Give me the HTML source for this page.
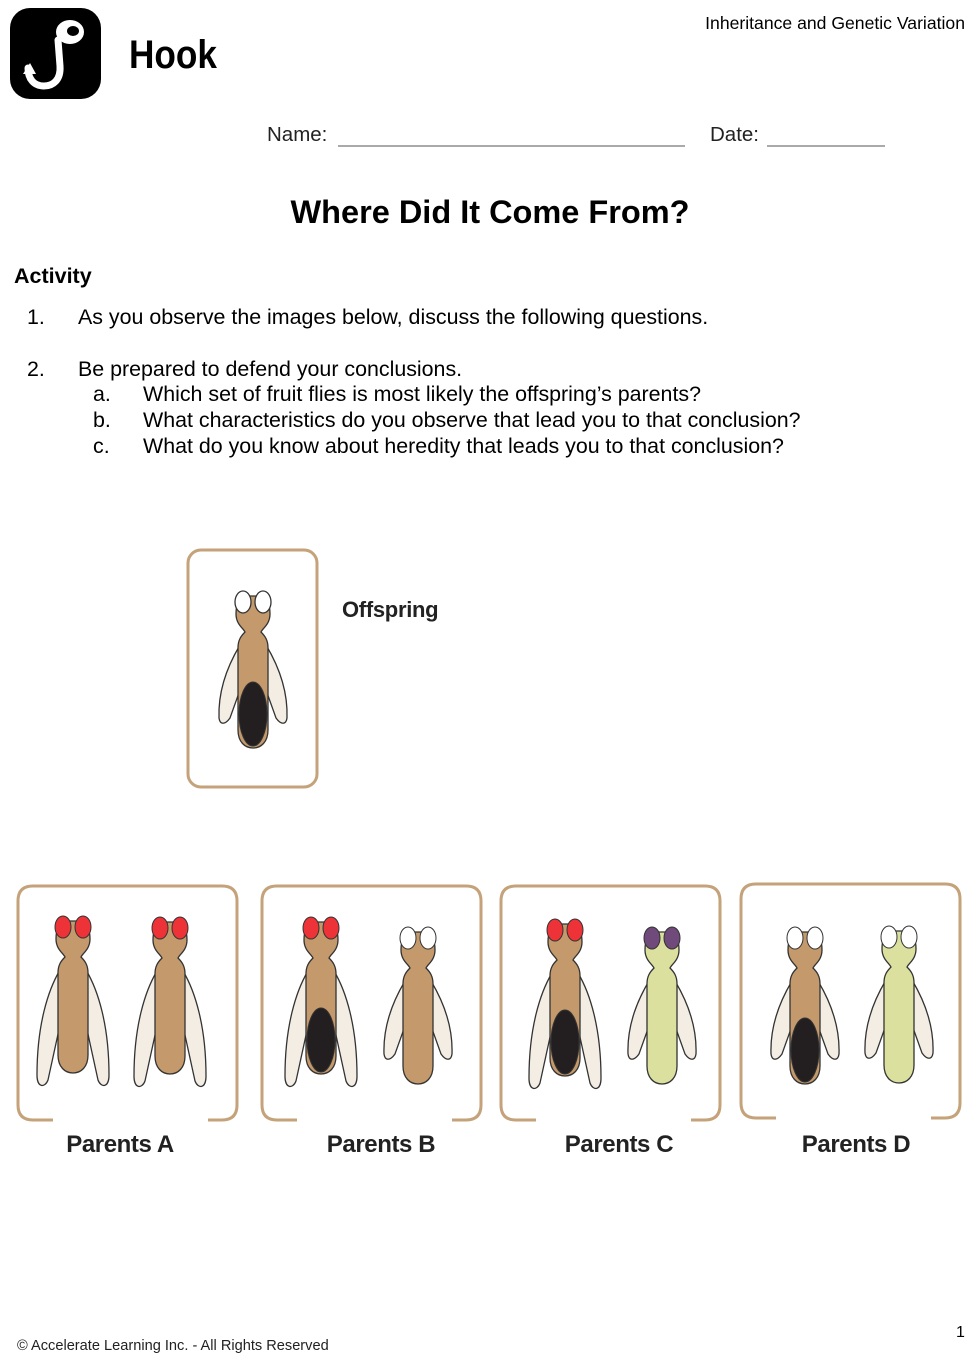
<!DOCTYPE html>
<html><head><meta charset="utf-8"><style>
body{margin:0;width:978px;height:1369px;background:#fff;position:relative;font-family:"Liberation Sans",Arial,sans-serif;color:#000;overflow:hidden}
.t{position:absolute;white-space:nowrap}
.q{font-size:21.4px}
</style></head><body>
<svg width="978" height="1369" style="position:absolute;left:0;top:0">
<defs>
<path id="body" d="M -8,6 L 8,6 C 14,8 17,14 17,24 C 17,34 10,38 8,42 C 12,46 15,50 15,58 L 15,140 C 15,152 8,158 0,158 C -8,158 -15,152 -15,140 L -15,58 C -15,50 -12,46 -8,42 C -10,38 -17,34 -17,24 C -17,14 -14,8 -8,6 Z" stroke="#333" stroke-width="1.3"/>
<g id="wl" fill="#f3ede3" stroke="#333" stroke-width="1.3">
<path d="M -13,55 C -25,75 -36,110 -36,160 C -36,173 -28,173 -25,165 L -13,110 Z"/>
<path d="M 13,55 C 25,75 36,110 36,160 C 36,173 28,173 25,165 L 13,110 Z"/>
</g>
<g id="ws" fill="#f3ede3" stroke="#333" stroke-width="1.3">
<path d="M -13,55 C -25,75 -35,100 -34,128 C -33,135 -28,135 -23,128 L -13,100 Z"/>
<path d="M 13,55 C 25,75 35,100 34,128 C 33,135 28,135 23,128 L 13,100 Z"/>
</g>
<ellipse id="ab" cx="0" cy="124" rx="14" ry="32" fill="#231f20" stroke="#333"/>
</defs>
<!-- logo -->
<rect x="10" y="8" width="91" height="91" rx="20" fill="#000"/>
<path d="M58,40 L60,66 C61,80 53,86 44,86 C34,86 28,79 28,68" fill="none" stroke="#fff" stroke-width="7" stroke-linecap="round"/>
<path d="M23,74 L30,63 L36,74 Z" fill="#fff"/>
<ellipse cx="70" cy="32" rx="14" ry="12" fill="#fff"/>
<ellipse cx="73" cy="31" rx="6" ry="5" fill="#000"/>
<!-- lines -->
<line x1="338" y1="146" x2="685" y2="146" stroke="#555"/>
<line x1="767" y1="146" x2="885" y2="146" stroke="#555"/>
<!-- offspring box -->
<rect x="188" y="550" width="129" height="237" rx="13" fill="none" stroke="#c4a27a" stroke-width="3"/>
<g transform="translate(253,590)"><use href="#ws"/><use href="#body" fill="#c4996b"/><use href="#ab"/>
<ellipse cx="-10" cy="12" rx="8" ry="11" fill="#fff" stroke="#333" stroke-width="1.3"/><ellipse cx="10" cy="12" rx="8" ry="11" fill="#fff" stroke="#333" stroke-width="1.3"/></g>
<!-- parent boxes -->
<g fill="none" stroke="#c4a27a" stroke-width="3">
<path d="M53,1120 L33,1120 Q18,1120 18,1105 L18,901 Q18,886 33,886 L222,886 Q237,886 237,901 L237,1105 Q237,1120 222,1120 L208,1120"/>
<path d="M297,1120 L277,1120 Q262,1120 262,1105 L262,901 Q262,886 277,886 L466,886 Q481,886 481,901 L481,1105 Q481,1120 466,1120 L452,1120"/>
<path d="M536,1120 L516,1120 Q501,1120 501,1105 L501,901 Q501,886 516,886 L705,886 Q720,886 720,901 L720,1105 Q720,1120 705,1120 L691,1120"/>
<path d="M776,1118 L756,1118 Q741,1118 741,1103 L741,899 Q741,884 756,884 L945,884 Q960,884 960,899 L960,1103 Q960,1118 945,1118 L931,1118"/>
</g>
<!-- A -->
<g transform="translate(73,915)"><use href="#wl"/><use href="#body" fill="#c4996b"/><ellipse cx="-10" cy="12" rx="8" ry="11" fill="#ee3338" stroke="#333"/><ellipse cx="10" cy="12" rx="8" ry="11" fill="#ee3338" stroke="#333"/></g>
<g transform="translate(170,916)"><use href="#wl"/><use href="#body" fill="#c4996b"/><ellipse cx="-10" cy="12" rx="8" ry="11" fill="#ee3338" stroke="#333"/><ellipse cx="10" cy="12" rx="8" ry="11" fill="#ee3338" stroke="#333"/></g>
<!-- B -->
<g transform="translate(321,916)"><use href="#wl"/><use href="#body" fill="#c4996b"/><use href="#ab"/><ellipse cx="-10" cy="12" rx="8" ry="11" fill="#ee3338" stroke="#333"/><ellipse cx="10" cy="12" rx="8" ry="11" fill="#ee3338" stroke="#333"/></g>
<g transform="translate(418,926)"><use href="#ws"/><use href="#body" fill="#c4996b"/><ellipse cx="-10" cy="12" rx="8" ry="11" fill="#fff" stroke="#333"/><ellipse cx="10" cy="12" rx="8" ry="11" fill="#fff" stroke="#333"/></g>
<!-- C -->
<g transform="translate(565,918)"><use href="#wl"/><use href="#body" fill="#c4996b"/><use href="#ab"/><ellipse cx="-10" cy="12" rx="8" ry="11" fill="#ee3338" stroke="#333"/><ellipse cx="10" cy="12" rx="8" ry="11" fill="#ee3338" stroke="#333"/></g>
<g transform="translate(662,926)"><use href="#ws"/><use href="#body" fill="#dbe09f"/><ellipse cx="-10" cy="12" rx="8" ry="11" fill="#6f4a7a" stroke="#333"/><ellipse cx="10" cy="12" rx="8" ry="11" fill="#6f4a7a" stroke="#333"/></g>
<!-- D -->
<g transform="translate(805,926)"><use href="#ws"/><use href="#body" fill="#c4996b"/><use href="#ab"/><ellipse cx="-10" cy="12" rx="8" ry="11" fill="#fff" stroke="#333"/><ellipse cx="10" cy="12" rx="8" ry="11" fill="#fff" stroke="#333"/></g>
<g transform="translate(899,925)"><use href="#ws"/><use href="#body" fill="#dbe09f"/><ellipse cx="-10" cy="12" rx="8" ry="11" fill="#fff" stroke="#333"/><ellipse cx="10" cy="12" rx="8" ry="11" fill="#fff" stroke="#333"/></g>
</svg>
<div class="t" style="left:129px;top:33px;font-size:40px;font-weight:bold;transform:scaleX(0.88);transform-origin:left">Hook</div>
<div class="t" style="right:13px;top:13px;font-size:17.6px">Inheritance and Genetic Variation</div>
<div class="t" style="left:267px;top:123px;font-size:20.5px;color:#222">Name:</div>
<div class="t" style="left:710px;top:123px;font-size:20.5px;color:#222">Date:</div>
<div class="t" style="left:0;width:980px;text-align:center;top:194px;font-size:32.5px;font-weight:bold">Where Did It Come From?</div>
<div class="t" style="left:14px;top:264px;font-size:21.5px;font-weight:bold">Activity</div>
<div class="t q" style="left:27px;top:305px">1.</div>
<div class="t q" style="left:78px;top:305px">As you observe the images below, discuss the following questions.</div>
<div class="t q" style="left:27px;top:357px">2.</div>
<div class="t q" style="left:78px;top:357px">Be prepared to defend your conclusions.</div>
<div class="t q" style="left:93px;top:382px">a.</div>
<div class="t q" style="left:143px;top:382px">Which set of fruit flies is most likely the offspring’s parents?</div>
<div class="t q" style="left:93px;top:408px">b.</div>
<div class="t q" style="left:143px;top:408px">What characteristics do you observe that lead you to that conclusion?</div>
<div class="t q" style="left:93px;top:434px">c.</div>
<div class="t q" style="left:143px;top:434px">What do you know about heredity that leads you to that conclusion?</div>
<div class="t" style="left:342px;top:597px;font-size:22px;font-weight:bold;color:#222;letter-spacing:-0.3px">Offspring</div>
<div class="t" style="left:10px;width:220px;text-align:center;top:1131px;font-size:24px;font-weight:bold;color:#222;letter-spacing:-0.4px">Parents A</div>
<div class="t" style="left:271px;width:220px;text-align:center;top:1131px;font-size:24px;font-weight:bold;color:#222;letter-spacing:-0.4px">Parents B</div>
<div class="t" style="left:509px;width:220px;text-align:center;top:1131px;font-size:24px;font-weight:bold;color:#222;letter-spacing:-0.4px">Parents C</div>
<div class="t" style="left:746px;width:220px;text-align:center;top:1131px;font-size:24px;font-weight:bold;color:#222;letter-spacing:-0.4px">Parents D</div>
<div class="t" style="left:17px;top:1338px;font-size:14.6px;color:#222">© Accelerate Learning Inc. - All Rights Reserved</div>
<div class="t" style="left:956px;top:1324px;font-size:16px">1</div>
</body></html>
